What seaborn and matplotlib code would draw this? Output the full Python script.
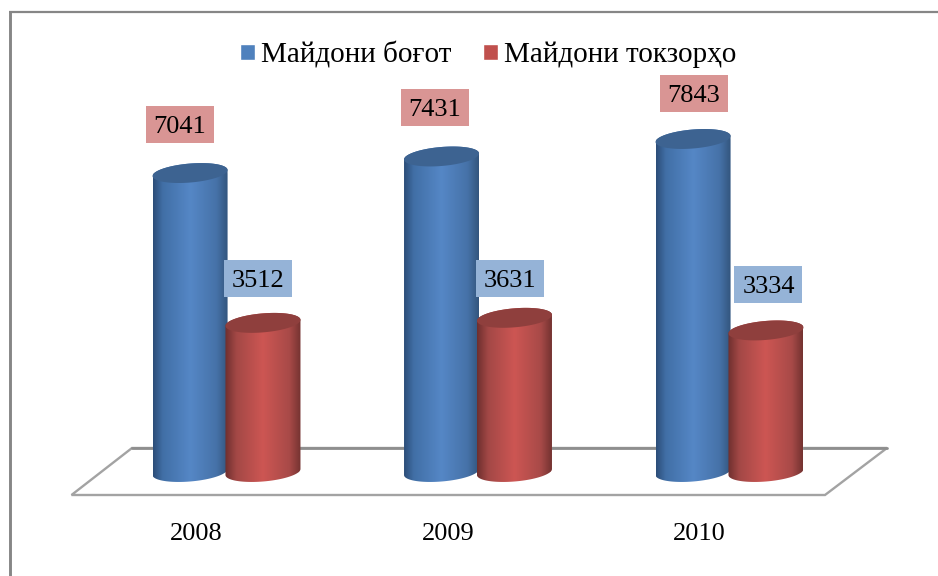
import numpy as np
import pandas as pd
import matplotlib
matplotlib.use("Agg")
import matplotlib.pyplot as plt
from matplotlib.colors import LinearSegmentedColormap
from matplotlib.patches import Polygon, Rectangle
from matplotlib.path import Path
from matplotlib.transforms import Affine2D
import seaborn as sns

years = ["2008", "2009", "2010"]
orchards = [7041, 7431, 7843]
vineyards = [3512, 3631, 3334]
series_names = ["Майдони боғот", "Майдони токзорҳо"]

# label box offsets in pixels from the top of each bar
orchard_offsets = [(-10, 48.5), (-7, 49), (1, 45.5)]
vineyard_offsets = [(-4.5, 44.5), (-4, 39), (2.5, 46)]

W, H = 938, 576
FLOOR_PX = 495
ZERO_PX = 472
PX_PER_CAT = 251.5
PX_PER_VAL = 0.04246

sns.set_theme(style="white")
plt.rcParams["font.family"] = ["Liberation Serif", "DejaVu Serif"]

df = pd.DataFrame({
    "year": years * 2,
    "value": orchards + vineyards,
    "series": [series_names[0]] * 3 + [series_names[1]] * 3,
})

fig = plt.figure(figsize=(W / 100, H / 100), dpi=100, facecolor="white")
ax = fig.add_axes([0, (H - FLOOR_PX) / H, 1, FLOOR_PX / H])
sns.barplot(data=df, x="year", y="value", hue="series", hue_order=series_names,
            palette=["#4f81bd", "#c0504d"], saturation=1, width=0.58, gap=0,
            ax=ax, zorder=3)
ax.set_xlim(-226.5 / PX_PER_CAT, (W - 226.5) / PX_PER_CAT)
ax.set_ylim(-(FLOOR_PX - ZERO_PX) / PX_PER_VAL, ZERO_PX / PX_PER_VAL)
ax.set_xlabel("")
ax.set_ylabel("")
ax.set_yticks([])
ax.set_xticks(np.arange(3) - 30 / PX_PER_CAT, years)
ax.tick_params(axis="x", length=0, pad=20, labelsize=19, labelcolor="black")
sns.despine(ax=ax, left=True, bottom=True)
ax.patch.set_alpha(0)

px = Affine2D().scale(1, -1).translate(0, H)

# frame (left and top only)
for xs, ys, lw in [([9.5, 9.5], [11, H], 2.1), ([8.5, W], [12, 12], 1.6)]:
    ax.plot(xs, ys, color="#868686", lw=lw, transform=px, clip_on=False,
            solid_capstyle="butt", zorder=1)

# floor
floor = Polygon([(71.5, 495), (132, 448), (887, 448), (825, 495)], closed=True,
                facecolor="white", edgecolor="#a3a3a3", lw=1.7, transform=px,
                clip_on=False, zorder=1.5, joinstyle="miter")
ax.add_patch(floor)
ax.plot([132, 887], [448, 448], color="#8e8e8e", lw=2.0, transform=px,
        clip_on=False, zorder=1.6)

blue_cmap = LinearSegmentedColormap.from_list("b", [
    (0, "#2c4d78"), (0.13, "#416fa6"), (0.5, "#5587c6"), (0.85, "#4672a8"), (1, "#33557d")])
red_cmap = LinearSegmentedColormap.from_list("r", [
    (0, "#6e2f2e"), (0.15, "#a34846"), (0.5, "#cd5653"), (0.85, "#a84a48"), (1, "#743331")])
grad = np.linspace(0, 1, 256).reshape(1, -1)

A, B, TILT = 37.5, 9.5, 3.0


def ellipse_pts(cx, cy, t):
    x = cx + A / PX_PER_CAT * np.cos(t)
    y = cy + (B * np.sin(t) + TILT * np.cos(t)) / PX_PER_VAL
    return np.column_stack([x, y])


groups = [
    (ax.containers[0], blue_cmap, "#3d6391", "#d99594", orchard_offsets, 3),
    (ax.containers[1], red_cmap, "#8f3f3d", "#95b3d7", vineyard_offsets, 4),
]
for container, cmap, top_col, box_col, offsets, z in groups:
    for bar, off in zip(container.patches, offsets):
        cx = bar.get_x() + bar.get_width() / 2
        val = bar.get_height()
        base = ellipse_pts(cx, 0, np.linspace(np.pi, 2 * np.pi, 80))
        upper = ellipse_pts(cx, val, np.linspace(0, np.pi, 80))
        outline = Path(np.vstack([base, upper, base[:1]]), closed=True)
        bar.set_zorder(z)
        bar.set_clip_path(outline, ax.transData)
        half = A / PX_PER_CAT
        im = ax.imshow(grad, cmap=cmap, aspect="auto", vmin=0, vmax=1,
                       extent=(cx - half, cx + half, -600, val + 600), zorder=z + 0.1)
        im.set_clip_path(outline, ax.transData)
        lid = ellipse_pts(cx, val, np.linspace(0, 2 * np.pi, 160))
        ax.add_patch(Polygon(lid, closed=True, facecolor=top_col, edgecolor="none",
                             zorder=z + 0.2))
        # value label
        xp, yp = ax.transData.transform((cx, val))
        bx = xp + off[0]
        by = H - yp - off[1]
        ax.add_patch(Rectangle((bx - 34, by - 18.5), 68, 37, facecolor=box_col,
                               edgecolor="none", transform=px, zorder=6, clip_on=False))
        ax.text(bx, by, f"{val:.0f}", transform=px, ha="center", va="center_baseline",
                fontsize=19, color="black", zorder=7)

ax.set_xlim(-226.5 / PX_PER_CAT, (W - 226.5) / PX_PER_CAT)
ax.set_ylim(-(FLOOR_PX - ZERO_PX) / PX_PER_VAL, ZERO_PX / PX_PER_VAL)

sns.move_legend(ax, "upper left", bbox_to_anchor=(214 / W, 1 - 15 / FLOOR_PX), ncol=2,
                frameon=False, title=None, fontsize=21, handlelength=0.5,
                handleheight=0.5, handletextpad=0.2, columnspacing=1.1,
                labelcolor="black")

fig.savefig("out.png", dpi=100, facecolor="white")
